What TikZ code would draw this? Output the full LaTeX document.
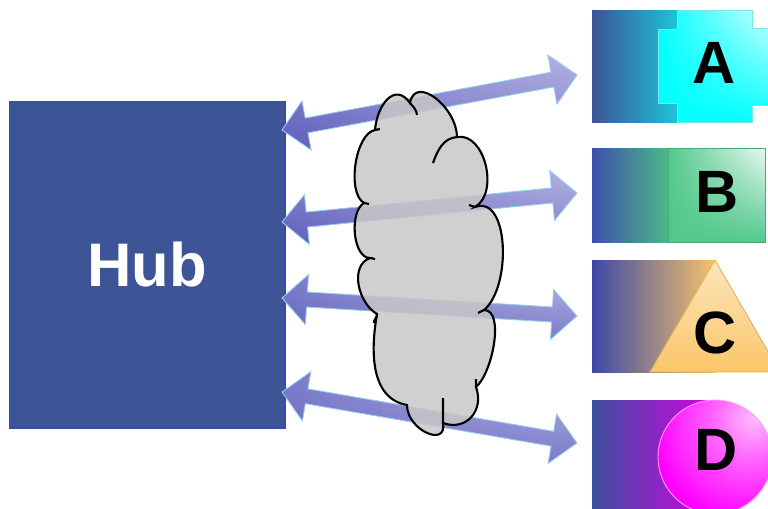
\documentclass[tikz,border=0pt]{standalone}
\usepackage{fontspec}
\setmainfont{Liberation Sans}
\usetikzlibrary{calc,shadings}
\definecolor{hubblue}{RGB}{61,84,150}
\definecolor{hubedge}{RGB}{55,75,175}
\definecolor{linkdark}{RGB}{52,52,162}
\definecolor{linkmid}{RGB}{115,115,198}
\definecolor{linklight}{RGB}{215,215,244}
\definecolor{linkedge}{RGB}{150,205,235}
\definecolor{cloudgray}{RGB}{200,200,200}
\definecolor{pieceA}{RGB}{0,255,255}
\definecolor{pieceB}{RGB}{82,200,140}
\definecolor{pieceC}{RGB}{250,198,105}
\definecolor{pieceD}{RGB}{255,0,255}

\pgfdeclareradialshading{glowD}{\pgfpoint{18bp}{18bp}}{color(0bp)=(pieceD!25!white); color(16bp)=(pieceD!60!white); color(38bp)=(pieceD); color(100bp)=(pieceD)}
\pgfdeclareradialshading{glowlink}{\pgfpoint{50bp}{50bp}}{color(0bp)=(linklight); color(32bp)=(linklight!50!linkmid); color(62bp)=(linkmid); color(95bp)=(linkdark); color(160bp)=(linkdark)}

% double headed link from #1 to #2
\newcommand{\linkarrow}[2]{%
  \shade[link] (#1)
    -- ($(#1)!0.5cm!(#2)!0.5cm!90:(#2)$)
    -- ($(#1)!0.5cm!(#2)!0.15cm!90:(#2)$)
    -- ($(#2)!0.5cm!(#1)!0.15cm!-90:(#1)$)
    -- ($(#2)!0.5cm!(#1)!0.5cm!-90:(#1)$)
    -- (#2)
    -- ($(#2)!0.5cm!(#1)!0.5cm!90:(#1)$)
    -- ($(#2)!0.5cm!(#1)!0.15cm!90:(#1)$)
    -- ($(#1)!0.5cm!(#2)!0.15cm!-90:(#2)$)
    -- ($(#1)!0.5cm!(#2)!0.5cm!-90:(#2)$)
    -- cycle;}

\begin{document}
\begin{tikzpicture}[
    x=0.02cm, y=0.02cm,
    hubbox/.style={draw=hubedge,line width=0.6pt,fill=hubblue,text=white,inner sep=0pt,
      minimum width=5.52cm,minimum height=6.54cm,font=\fontsize{35}{42}\selectfont\bfseries},
    letter/.style={inner sep=0pt,font=\fontsize{34}{40}\selectfont\bfseries},
    link/.style={shading=glowlink,draw=linkedge,line width=0.5pt},
    cloud/.style={fill=cloudgray,fill opacity=0.85,draw=black,line width=1.2pt},
    cloudline/.style={draw=black,line width=1.2pt}
  ]
    \useasboundingbox (0,0) rectangle (768,-508);
    \clip (0,0) rectangle (768,-508);

    \node[hubbox] (hub) at (147,-264.5) {Hub};

    % A
    \shade[left color=hubblue,right color={rgb,255:red,30;green,195;blue,215}] (592,-10) rectangle (677,-122);
    \shade[upper right=pieceA!20!white,upper left=pieceA,lower left=pieceA,lower right=pieceA,
      draw={rgb,255:red,120;green,230;blue,235},line width=0.5pt]
      (677,-10) -- (752,-10) -- (752,-28) -- (768,-28) -- (768,-105) -- (752,-105) -- (752,-122)
      -- (677,-122) -- (677,-103) -- (658,-103) -- (658,-29) -- (677,-29) -- cycle;
    \node[letter] (A) at (714,-63) {A};

    % B
    \shade[left color={rgb,255:red,62;green,80;blue,170},right color={rgb,255:red,75;green,185;blue,135}] (592,-148) rectangle (668,-242);
    \shade[upper right=pieceB!12!white,upper left=pieceB,lower left=pieceB,lower right=pieceB,
      draw=pieceB!85!black,line width=0.5pt] (668,-148) rectangle (765,-242);
    \node[letter] (B) at (717,-192) {B};

    % C
    \shade[left color={rgb,255:red,60;green,72;blue,165},right color={rgb,255:red,245;green,195;blue,105}] (592,-260) rectangle (715,-372);
    \shade[top color=pieceC!45!white,bottom color=pieceC,draw=pieceC!90!black,line width=0.5pt]
      (715,-260) -- (780,-372) -- (650,-372) -- cycle;
    \node[letter] (C) at (715,-333) {C};

    % D
    \shade[left color={rgb,255:red,60;green,80;blue,160},right color={rgb,255:red,215;green,0;blue,225}] (592,-400) rectangle (715,-508);
    \shade[shading=glowD,draw=pieceD!40!white,line width=0.5pt] (715,-457) circle[radius=57];
    \node[letter] (D) at (716,-450) {D};

    % link ends
    \coordinate (hA) at (282,-130);
    \coordinate (tA) at (577,-75);
    \coordinate (hB) at (282,-222);
    \coordinate (tB) at (577,-193);
    \coordinate (hC) at (282,-298);
    \coordinate (tC) at (577,-316);
    \coordinate (hD) at (282,-392);
    \coordinate (tD) at (577,-443);

    \linkarrow{hA}{tA}
    \linkarrow{hB}{tB}
    \linkarrow{hC}{tC}
    \linkarrow{hD}{tD}

    % cloud over the links
    \path[cloud] (375,-130) to[out=85,in=125,looseness=1.5] (410,-103)
      to[out=80,in=90,looseness=1.3] (457,-137)
      to[out=10,in=30] (475,-207)
      to[out=20,in=40,looseness=0.9] (484,-310)
      to[out=0,in=40,looseness=0.7] (476,-387)
      to[out=-70,in=-20,looseness=1.3] (443,-423)
      to[out=-80,in=-90,looseness=1.6] (407,-405)
      to[out=170,in=-100] (377,-314)
      to[out=150,in=-160] (370,-258)
      to[out=180,in=-150,looseness=0.8] (364,-203)
      to[out=150,in=190,looseness=0.7] (375,-130) -- cycle;
    \path[cloudline] (410,-103) to[out=-50,in=95] (417,-115)
      (457,-137) to[out=185,in=70] (433,-163)
      (475,-207) to[out=190,in=10] (469,-205)
      (484,-310) to[out=200,in=20] (478,-313)
      (476,-387) -- (476,-379)
      (443,-423) to[out=90,in=-90] (443,-398)
      (377,-314) to[out=-80,in=100] (374,-323)
      (370,-258) -- (375,-259)
      (364,-203) -- (369,-204)
      (375,-130) -- (380,-129);
  \end{tikzpicture}
\end{document}
